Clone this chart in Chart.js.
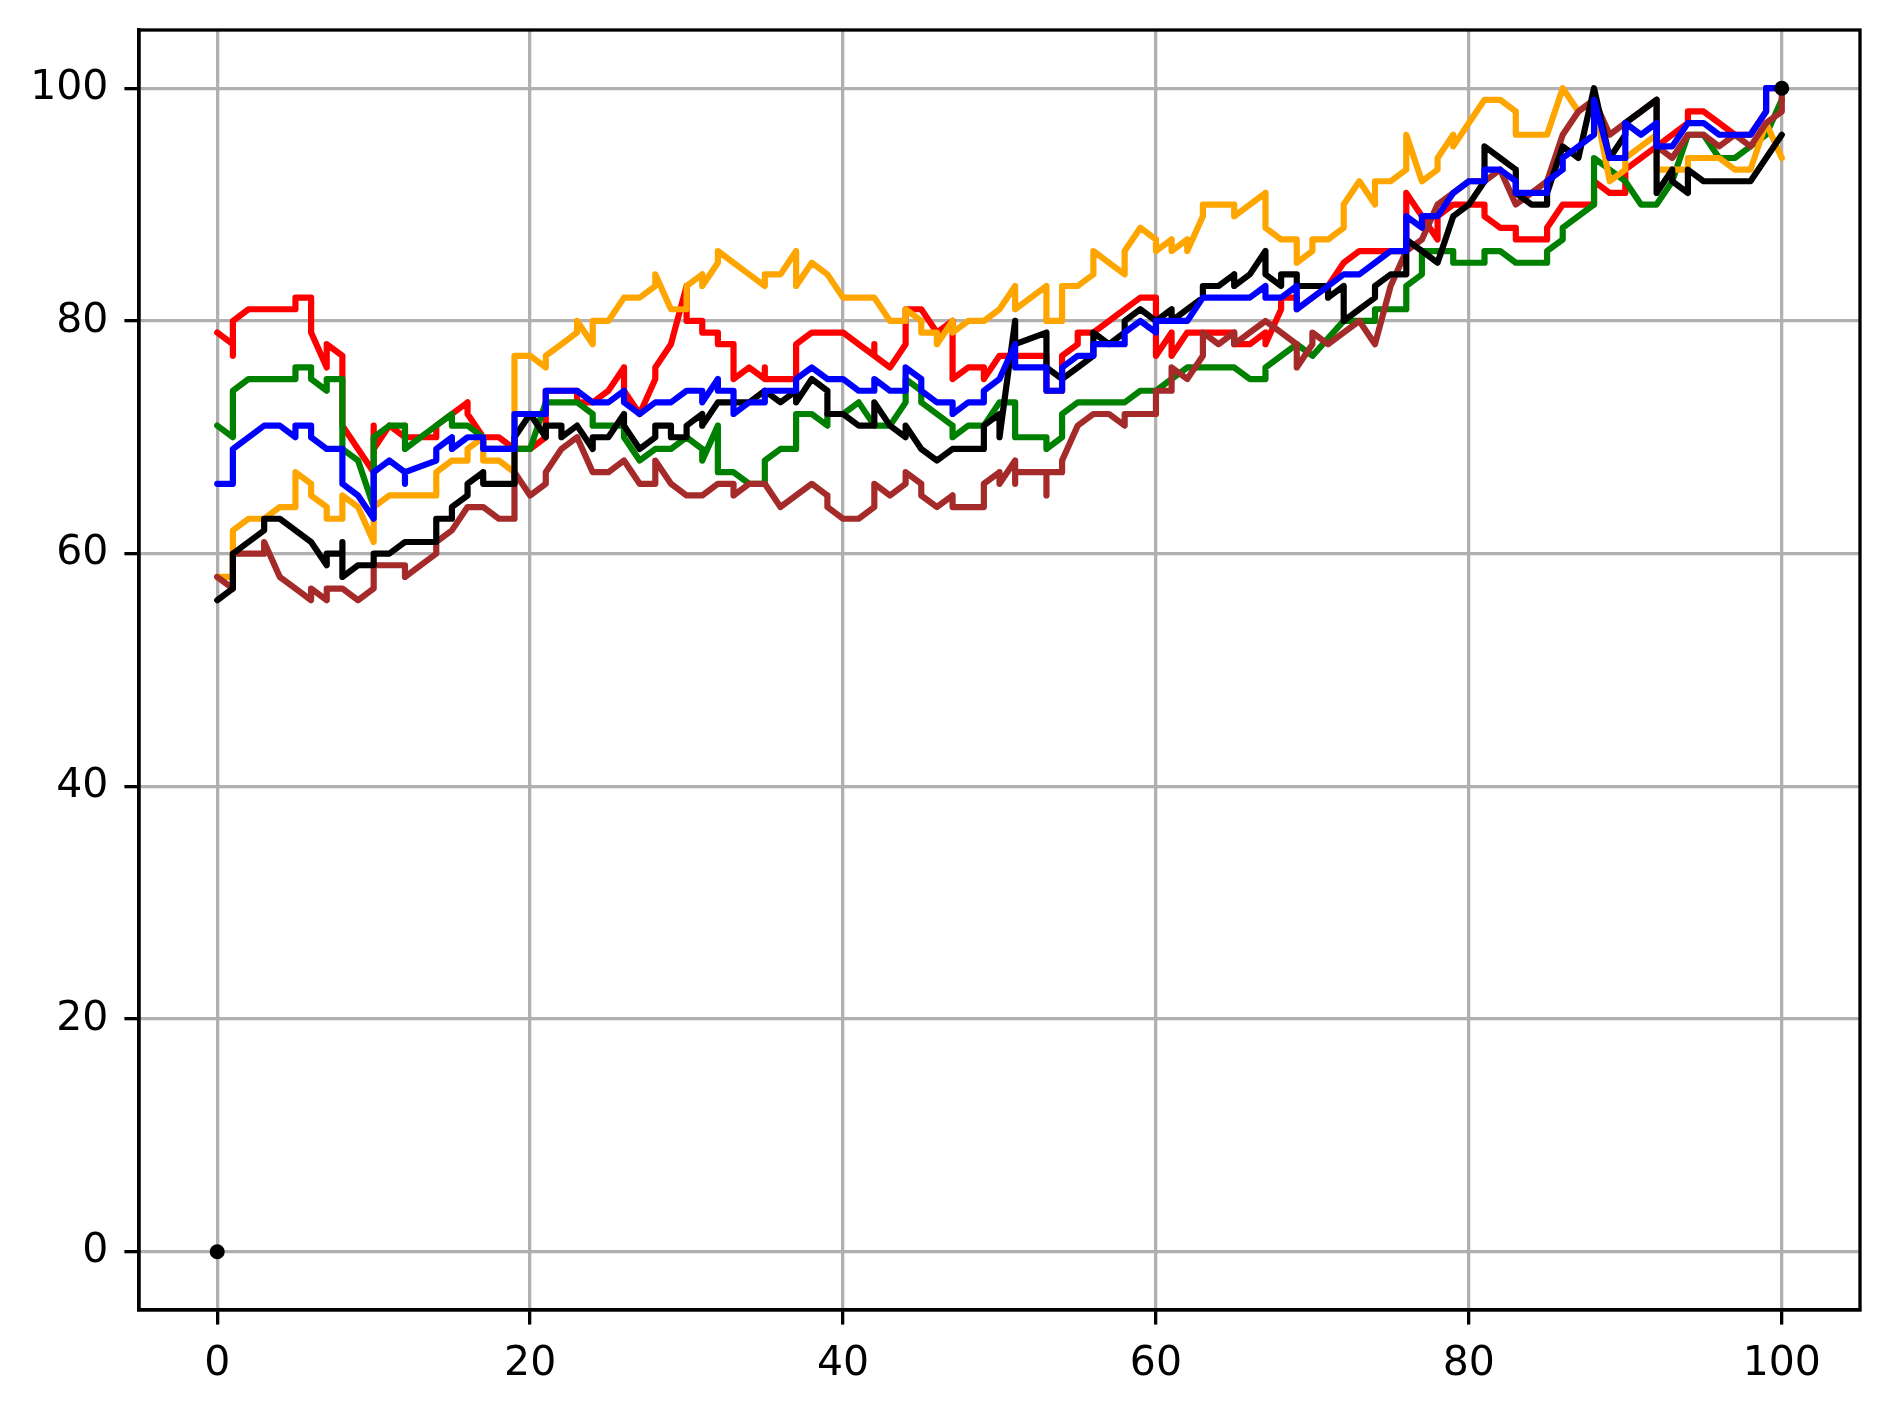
<!DOCTYPE html>
<html>
<head>
<meta charset="utf-8">
<script src="https://cdn.jsdelivr.net/npm/chart.js@4.4.1/dist/chart.umd.min.js"></script>
<style>
  html, body { margin: 0; padding: 0; background: #fff; }
  canvas { display: block; }
</style>
</head>
<body>
<canvas id="walkChart" width="1890" height="1410"></canvas>
<script>
// tick positions
const xTicks = [0, 20, 40, 60, 80, 100];
const yTicks = [0, 20, 40, 60, 80, 100];

// each series: [x, y] pairs
const redLine = [[0,79],[1,78],[1,77],[1,80],[2,81],[5,81],[5,82],[6,82],[6,79],[7,76],[7,78],[8,77],[8,71],[9,69],[10,67],[10,71],[10,69],[11,71],[12,70],[12,71],[12,70],[14,70],[14,71],[16,73],[16,72],[17,70],[18,70],[19,69],[20,69],[21,70],[21,74],[23,74],[23,73],[24,73],[25,74],[26,76],[26,74],[27,72],[28,75],[28,76],[29,78],[30,83],[30,80],[31,80],[31,79],[32,79],[32,78],[33,78],[33,75],[34,76],[35,75],[35,76],[35,75],[36,75],[37,75],[37,78],[38,79],[40,79],[41,78],[42,77],[42,78],[42,77],[43,76],[44,78],[44,81],[45,81],[46,79],[47,80],[47,75],[48,76],[49,76],[49,75],[50,77],[53,77],[53,74],[54,74],[54,77],[55,78],[55,79],[56,79],[57,80],[58,81],[59,82],[60,82],[60,77],[61,79],[61,77],[62,79],[65,79],[65,78],[66,78],[67,79],[67,78],[68,81],[68,82],[69,82],[69,81],[70,82],[71,83],[72,85],[73,86],[76,86],[76,91],[77,89],[78,87],[78,89],[79,90],[81,90],[81,89],[82,88],[83,88],[83,87],[85,87],[85,88],[86,90],[88,90],[88,92],[89,91],[90,91],[90,93],[91,94],[92,95],[94,97],[94,98],[95,98],[96,97],[97,96],[98,96],[99,98],[99,100],[100,100]];

const greenLine = [[0,71],[1,70],[1,74],[2,75],[5,75],[5,76],[6,76],[6,75],[7,74],[7,75],[8,75],[8,69],[9,68],[10,64],[10,70],[11,71],[12,71],[12,69],[13,70],[14,71],[15,72],[15,71],[16,71],[17,70],[17,69],[19,69],[20,69],[21,73],[23,73],[24,72],[24,71],[26,71],[26,70],[27,68],[28,69],[29,69],[30,70],[31,69],[31,68],[32,71],[32,67],[33,67],[34,66],[35,66],[35,68],[36,69],[37,69],[37,72],[38,72],[39,71],[39,72],[40,72],[41,73],[42,71],[43,71],[44,73],[44,75],[45,74],[45,73],[47,71],[47,70],[48,71],[49,71],[50,73],[51,73],[51,70],[53,70],[53,69],[54,70],[54,72],[55,73],[58,73],[59,74],[60,74],[61,75],[62,76],[65,76],[66,75],[67,75],[67,76],[69,78],[70,77],[72,80],[74,80],[74,81],[76,81],[76,83],[77,84],[77,86],[78,86],[79,86],[79,85],[81,85],[81,86],[82,86],[83,85],[85,85],[85,86],[86,87],[86,88],[88,90],[88,94],[89,93],[90,92],[91,90],[92,90],[93,92],[94,96],[95,96],[96,94],[97,94],[98,95],[99,96],[100,99]];

const blueLine = [[0,66],[1,66],[1,69],[3,71],[4,71],[5,70],[5,71],[6,71],[6,70],[7,69],[8,69],[8,66],[9,65],[10,63],[10,67],[11,68],[12,67],[12,66],[12,67],[14,68],[14,69],[15,70],[15,69],[16,70],[17,70],[17,69],[19,69],[19,72],[21,72],[21,74],[23,74],[24,73],[25,73],[26,74],[26,73],[27,72],[28,73],[29,73],[30,74],[31,74],[31,73],[32,75],[32,74],[33,74],[33,72],[34,73],[35,73],[35,74],[37,74],[37,75],[38,76],[39,75],[40,75],[41,74],[42,74],[42,75],[43,74],[44,74],[44,76],[45,75],[45,74],[46,73],[47,73],[47,72],[48,73],[49,73],[49,74],[50,75],[51,78],[51,76],[53,76],[53,74],[54,74],[54,76],[55,77],[56,77],[56,78],[58,78],[58,79],[59,80],[60,79],[60,80],[62,80],[63,82],[66,82],[67,83],[67,82],[68,82],[69,83],[69,81],[70,82],[71,83],[72,84],[73,84],[74,85],[75,86],[76,86],[76,89],[77,88],[77,89],[78,89],[79,91],[80,92],[81,92],[81,93],[82,93],[83,92],[83,91],[85,91],[85,92],[86,93],[86,94],[87,95],[88,96],[88,99],[89,94],[90,94],[90,97],[91,96],[92,97],[92,95],[93,95],[94,97],[95,97],[96,96],[98,96],[99,98],[99,100],[100,100]];

const orangeLine = [[0,58],[1,58],[1,62],[2,63],[3,63],[4,64],[5,64],[5,67],[6,66],[6,65],[7,64],[7,63],[8,63],[8,65],[9,64],[10,61],[10,64],[11,65],[14,65],[14,67],[15,68],[16,68],[16,69],[17,70],[17,68],[18,68],[19,67],[19,66],[19,77],[20,77],[21,76],[21,77],[22,78],[23,79],[23,80],[24,78],[24,80],[25,80],[26,82],[27,82],[28,83],[28,84],[29,81],[30,81],[30,83],[31,84],[31,83],[32,85],[32,86],[33,85],[34,84],[35,83],[35,84],[36,84],[37,86],[37,83],[38,85],[39,84],[40,82],[42,82],[43,80],[44,80],[44,81],[45,80],[45,79],[46,79],[46,78],[47,80],[47,79],[48,80],[49,80],[50,81],[51,83],[51,81],[53,83],[53,80],[54,80],[54,83],[55,83],[56,84],[56,86],[57,85],[58,84],[58,86],[59,88],[60,87],[60,86],[61,87],[61,86],[62,87],[62,86],[63,89],[63,90],[65,90],[65,89],[67,91],[67,88],[68,87],[69,87],[69,85],[70,86],[70,87],[71,87],[72,88],[72,90],[73,92],[74,90],[74,92],[75,92],[76,93],[76,96],[77,92],[78,93],[78,94],[79,96],[79,95],[80,97],[81,99],[82,99],[83,98],[83,96],[85,96],[86,100],[87,98],[88,99],[89,92],[90,93],[90,94],[91,95],[92,96],[92,93],[94,93],[94,94],[96,94],[97,93],[98,93],[99,97],[100,94]];

const blackLine = [[0,56],[1,57],[1,60],[3,62],[3,63],[4,63],[6,61],[7,59],[7,60],[8,60],[8,61],[8,58],[9,59],[10,59],[10,60],[11,60],[12,61],[14,61],[14,63],[15,63],[15,64],[16,65],[16,66],[17,67],[17,66],[19,66],[19,70],[20,72],[21,70],[21,71],[22,71],[22,70],[23,71],[24,69],[24,70],[25,70],[26,72],[26,71],[27,69],[28,70],[28,71],[29,71],[29,70],[30,70],[30,71],[31,72],[31,71],[32,73],[34,73],[35,74],[36,73],[37,74],[37,73],[38,75],[39,74],[39,72],[40,72],[41,71],[42,71],[42,73],[43,71],[44,70],[44,71],[45,69],[46,68],[47,69],[49,69],[49,71],[50,72],[50,70],[51,80],[51,78],[53,79],[53,76],[54,75],[55,76],[56,77],[56,79],[57,78],[58,79],[58,80],[59,81],[60,80],[61,81],[61,80],[62,81],[63,82],[63,83],[64,83],[65,84],[65,83],[66,84],[67,86],[67,84],[68,83],[68,84],[69,84],[69,83],[71,83],[71,82],[72,83],[72,80],[73,81],[74,82],[74,83],[75,84],[76,84],[76,87],[77,86],[78,85],[79,89],[80,90],[81,92],[81,95],[82,94],[83,93],[83,91],[84,90],[85,90],[85,91],[86,95],[87,94],[88,100],[89,94],[90,96],[90,97],[91,98],[92,99],[92,91],[93,93],[93,92],[94,91],[94,93],[95,92],[98,92],[99,94],[100,96]];

const brownLine = [[0,58],[1,57],[1,60],[3,60],[3,61],[4,58],[5,57],[6,56],[6,57],[7,56],[7,57],[8,57],[9,56],[10,57],[10,59],[12,59],[12,58],[14,60],[14,61],[15,62],[16,64],[17,64],[18,63],[19,63],[19,67],[20,65],[21,66],[21,67],[22,69],[23,70],[24,67],[25,67],[26,68],[27,66],[28,66],[28,68],[29,66],[30,65],[31,65],[32,66],[33,66],[33,65],[34,66],[35,66],[36,64],[38,66],[39,65],[39,64],[40,63],[41,63],[42,64],[42,66],[43,65],[44,66],[44,67],[45,66],[45,65],[46,64],[47,65],[47,64],[49,64],[49,66],[50,67],[50,66],[51,68],[51,66],[51,67],[53,67],[53,65],[53,67],[54,67],[54,68],[55,71],[56,72],[57,72],[58,71],[58,72],[60,72],[60,74],[61,74],[61,76],[62,75],[63,77],[63,79],[64,78],[65,79],[65,78],[66,79],[67,80],[68,79],[69,78],[69,76],[70,78],[70,79],[71,78],[72,79],[73,80],[74,78],[75,83],[76,86],[77,87],[78,90],[79,91],[80,92],[81,92],[82,93],[83,90],[84,91],[85,92],[86,96],[87,98],[88,99],[89,96],[90,97],[91,98],[92,99],[92,95],[93,94],[94,96],[95,96],[96,95],[97,96],[98,95],[99,97],[100,98],[100,100]];

// the two marker dots
const endDots = [[0,0],[100,100]];

function toPoints(pairs) {
    return pairs.map(function (p) { return { x: p[0], y: p[1] }; });
}

function lineSet(pairs, color) {
    return {
        data: toPoints(pairs),
        borderColor: color,
        backgroundColor: color,
        borderWidth: 6.2,
        pointRadius: 0,
        tension: 0,
        fill: false,
        borderJoinStyle: 'round',
        borderCapStyle: 'round'
    };
}

// matplotlib-like box around the plot area
const frameBox = {
    id: 'frameBox',
    afterDatasetsDraw(chart) {
        const a = chart.chartArea;
        const ctx = chart.ctx;
        ctx.save();
        ctx.strokeStyle = '#000';
        ctx.lineWidth = 3.3;
        ctx.strokeRect(a.left, a.top, a.right - a.left, a.bottom - a.top);
        ctx.restore();
    }
};

const axisFont = { family: 'DejaVu Sans', size: 41 };

new Chart(document.getElementById('walkChart').getContext('2d'), {
    type: 'line',
    data: {
        datasets: [
            {
                data: toPoints(endDots),
                showLine: false,
                pointRadius: 7.5,
                pointBorderWidth: 0,
                pointBackgroundColor: '#000',
                borderColor: '#000'
            },
            lineSet(blueLine, 'blue'),
            lineSet(blackLine, 'black'),
            lineSet(brownLine, 'brown'),
            lineSet(orangeLine, 'orange'),
            lineSet(greenLine, 'green'),
            lineSet(redLine, 'red')
        ]
    },
    options: {
        responsive: false,
        devicePixelRatio: 1,
        animation: false,
        layout: { padding: { left: 0, right: 30, top: 30, bottom: 0 } },
        plugins: {
            legend: { display: false },
            tooltip: { enabled: false }
        },
        scales: {
            x: {
                type: 'linear',
                min: -5,
                max: 105,
                afterBuildTicks: function (axis) {
                    axis.ticks = xTicks.map(function (v) { return { value: v }; });
                },
                afterFit: function (axis) {
                    axis.height = 100;
                    axis.paddingLeft = 0;
                    axis.paddingRight = 0;
                },
                grid: {
                    color: '#b0b0b0',
                    lineWidth: 3.3,
                    tickLength: 14.6,
                    tickColor: '#000',
                    tickWidth: 3.3
                },
                border: { display: true, color: '#000', width: 3.3 },
                ticks: { font: axisFont, color: '#000', padding: 15, maxRotation: 0 }
            },
            y: {
                type: 'linear',
                min: -5,
                max: 105,
                afterBuildTicks: function (axis) {
                    axis.ticks = yTicks.map(function (v) { return { value: v }; });
                },
                afterFit: function (axis) {
                    axis.width = 139;
                    axis.paddingTop = 0;
                    axis.paddingBottom = 0;
                },
                grid: {
                    color: '#b0b0b0',
                    lineWidth: 3.3,
                    tickLength: 14.6,
                    tickColor: '#000',
                    tickWidth: 3.3
                },
                border: { display: true, color: '#000', width: 3.3 },
                ticks: { font: axisFont, color: '#000', padding: 16 }
            }
        }
    },
    plugins: [frameBox]
});
</script>
</body>
</html>
